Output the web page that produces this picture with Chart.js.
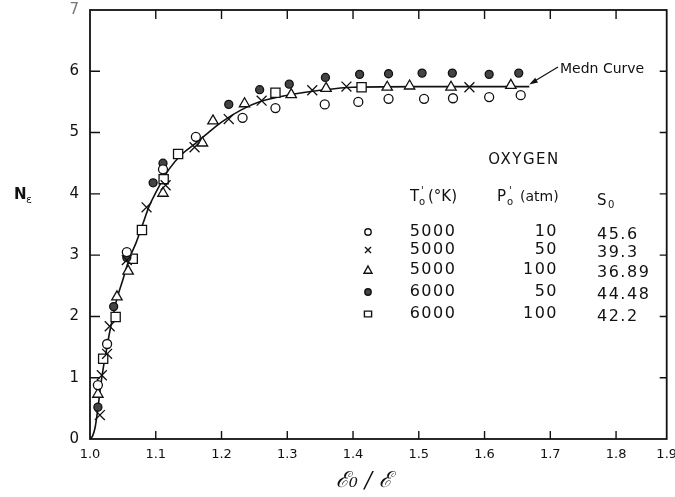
<!DOCTYPE html>
<html>
<head>
<meta charset="utf-8">
<script src="https://cdn.jsdelivr.net/npm/chart.js@4.4.1/dist/chart.umd.min.js"></script>
<style>
  html, body { margin: 0; padding: 0; background: #fff; }
</style>
</head>
<body>
<canvas id="ch" width="675" height="497"></canvas>
<script>
// values, [x = E0/E, y = N]
const openCircle = [[1.012,0.88],[1.026,1.55],[1.056,3.05],[1.111,4.40],[1.161,4.93],[1.232,5.24],[1.282,5.40],[1.357,5.46],[1.408,5.50],[1.454,5.55],[1.508,5.55],[1.552,5.56],[1.607,5.58],[1.655,5.61]];
const cross = [[1.015,0.39],[1.018,1.04],[1.026,1.39],[1.030,1.84],[1.056,2.92],[1.086,3.78],[1.115,4.14],[1.159,4.76],[1.211,5.22],[1.261,5.52],[1.338,5.69],[1.390,5.75],[1.577,5.74]];
const triangle = [[1.012,0.73],[1.041,2.32],[1.058,2.74],[1.111,4.01],[1.171,4.83],[1.187,5.19],[1.235,5.47],[1.306,5.62],[1.359,5.72],[1.452,5.74],[1.486,5.76],[1.549,5.74],[1.640,5.77]];
const filledCircle = [[1.012,0.52],[1.036,2.16],[1.056,2.96],[1.096,4.18],[1.111,4.50],[1.211,5.46],[1.258,5.70],[1.303,5.79],[1.358,5.90],[1.410,5.95],[1.454,5.96],[1.505,5.97],[1.551,5.97],[1.607,5.95],[1.652,5.97]];
const square = [[1.020,1.31],[1.039,1.99],[1.065,2.94],[1.079,3.41],[1.112,4.24],[1.134,4.65],[1.282,5.65],[1.413,5.74]];
const meanCurve = [[1.0,0],[1.004,0.05],[1.008,0.2],[1.012,0.5],[1.016,0.85],[1.02,1.15],[1.025,1.45],[1.03,1.75],[1.035,2.0],[1.04,2.25],[1.05,2.6],[1.06,2.95],[1.07,3.2],[1.08,3.5],[1.09,3.8],[1.1,4.02],[1.12,4.4],[1.14,4.65],[1.16,4.82],[1.18,5.0],[1.2,5.17],[1.23,5.37],[1.26,5.51],[1.3,5.61],[1.35,5.69],[1.4,5.74],[1.5,5.75],[1.6,5.75],[1.668,5.75]];

// legend table
const tempK = ['5000','5000','5000','6000','6000'];
const presAtm = ['10','50','100','50','100'];
const sZero = ['45.6','39.3','36.89','44.48','42.2'];

// axes
const xTickVals = [1.0,1.1,1.2,1.3,1.4,1.5,1.6,1.7,1.8,1.877];
const xTickLabels = ['1.0','1.1','1.2','1.3','1.4','1.5','1.6','1.7','1.8','1.9'];
const yTickVals = [0,1,2,3,4,5,6,7];
const curveEnd = [1.668, 5.75];

const INK = '#111';
const markers = [
  { data: openCircle, pointStyle: 'circle', radius: 4.5, fill: '#fff' },
  { data: cross, pointStyle: 'crossRot', radius: 7, fill: '#fff' },
  { data: triangle, pointStyle: 'triangle', radius: 6, fill: '#fff' },
  { data: filledCircle, pointStyle: 'circle', radius: 4, fill: '#444' },
  { data: square, pointStyle: 'rect', radius: 6.5, fill: '#fff' },
];

function toXY(arr) { return arr.map(p => ({ x: p[0], y: p[1] })); }

// small glyph for the table, same look as the plotted markers
function glyph(ctx, style, x, y, r, fill) {
  ctx.save();
  ctx.strokeStyle = INK; ctx.fillStyle = fill; ctx.lineWidth = 1.4;
  ctx.beginPath();
  if (style === 'circle') {
    ctx.arc(x, y, r, 0, Math.PI * 2); ctx.fill(); ctx.stroke();
  } else if (style === 'crossRot') {
    ctx.moveTo(x - r, y - r); ctx.lineTo(x + r, y + r);
    ctx.moveTo(x + r, y - r); ctx.lineTo(x - r, y + r); ctx.stroke();
  } else if (style === 'triangle') {
    ctx.moveTo(x, y - r); ctx.lineTo(x + r, y + r * 0.8); ctx.lineTo(x - r, y + r * 0.8);
    ctx.closePath(); ctx.fill(); ctx.stroke();
  } else {
    ctx.rect(x - r, y - r * 0.8, r * 2, r * 1.6); ctx.fill(); ctx.stroke();
  }
  ctx.restore();
}

const framePlugin = {
  id: 'frame',
  afterDatasetsDraw(chart) {
    const { ctx, chartArea: a, scales } = chart;
    ctx.save();
    ctx.strokeStyle = INK;
    ctx.lineWidth = 1.8;
    ctx.strokeRect(a.left, a.top, a.right - a.left, a.bottom - a.top);
    ctx.lineWidth = 1.4;
    ctx.beginPath();
    xTickVals.slice(1, 9).forEach(v => {
      const px = scales.x.getPixelForValue(v);
      ctx.moveTo(px, a.bottom); ctx.lineTo(px, a.bottom - 8);
      ctx.moveTo(px, a.top); ctx.lineTo(px, a.top + 9);
    });
    yTickVals.slice(1, 7).forEach(v => {
      const py = scales.y.getPixelForValue(v);
      ctx.moveTo(a.left, py); ctx.lineTo(a.left + 10, py);
      ctx.moveTo(a.right, py); ctx.lineTo(a.right - 7, py);
    });
    ctx.stroke();
    ctx.restore();
  }
};

const notesPlugin = {
  id: 'notes',
  afterDraw(chart) {
    const { ctx, scales } = chart;
    ctx.save();
    ctx.fillStyle = INK;
    ctx.textBaseline = 'middle';

    // y title: N with subscript epsilon
    ctx.font = 'bold 15px "DejaVu Sans"';
    ctx.textAlign = 'left';
    ctx.fillText('N', 14, 195);
    ctx.font = '11px "DejaVu Sans"';
    ctx.fillText('ε', 26, 200);

    // x title
    ctx.font = 'italic 22px "DejaVu Serif"';
    ctx.textAlign = 'center';
    ctx.fillText('ℰ₀ / ℰ', 364, 481);

    // mean curve note and arrow
    const tipX = scales.x.getPixelForValue(curveEnd[0]);
    const tipY = scales.y.getPixelForValue(curveEnd[1]) - 2;
    ctx.font = '14px "DejaVu Sans"';
    ctx.textAlign = 'left';
    ctx.fillText('Medn Curve', 560, 69);
    ctx.strokeStyle = INK; ctx.lineWidth = 1.2;
    ctx.beginPath(); ctx.moveTo(558, 67); ctx.lineTo(tipX + 3, tipY - 2); ctx.stroke();
    const ang = Math.atan2(tipY - 67, tipX - 558);
    ctx.beginPath();
    ctx.moveTo(tipX, tipY);
    ctx.lineTo(tipX - 9 * Math.cos(ang - 0.3), tipY - 9 * Math.sin(ang - 0.3));
    ctx.lineTo(tipX - 9 * Math.cos(ang + 0.3), tipY - 9 * Math.sin(ang + 0.3));
    ctx.closePath(); ctx.fill();

    // legend table
    ctx.font = '15px "DejaVu Sans"';
    ctx.letterSpacing = '1.5px';
    ctx.textAlign = 'center';
    ctx.fillText('OXYGEN', 524, 160);
    ctx.letterSpacing = '0px';

    ctx.textAlign = 'left';
    ctx.font = '15px "DejaVu Sans"';
    ctx.fillText('T', 410, 197);
    ctx.font = '10px "DejaVu Sans"';
    ctx.fillText("'", 421, 191); ctx.fillText('o', 419, 202);
    ctx.font = '15px "DejaVu Sans"';
    ctx.fillText('(°K)', 428, 197);

    ctx.fillText('P', 497, 197);
    ctx.font = '10px "DejaVu Sans"';
    ctx.fillText("'", 509, 191); ctx.fillText('o', 507, 202);
    ctx.font = '14px "DejaVu Sans"';
    ctx.fillText('(atm)', 520, 197);

    ctx.font = '15px "DejaVu Sans"';
    ctx.fillText('S', 597, 201);
    ctx.font = '10px "DejaVu Sans"';
    ctx.fillText('0', 608, 205);

    const rowY = [232, 250, 270, 292, 314];
    const glyphR = [3.2, 3, 4, 3.2, 3.6];
    ctx.font = '16px "DejaVu Sans"';
    ctx.letterSpacing = '1.5px';
    tempK.forEach((t, i) => {
      const m = markers[i];
      glyph(ctx, m.pointStyle, 368, rowY[i], glyphR[i], m.fill);
      ctx.fillStyle = INK;
      ctx.textAlign = 'center'; ctx.fillText(t, 433, rowY[i]);
      ctx.textAlign = 'right'; ctx.fillText(presAtm[i], 558, rowY[i]);
      ctx.textAlign = 'left'; ctx.fillText(sZero[i], 597, rowY[i] + 3);
    });
    ctx.restore();
  }
};

const datasets = [{
  label: 'Mean curve',
  data: toXY(meanCurve),
  showLine: true,
  borderColor: INK,
  borderWidth: 1.6,
  pointRadius: 0,
  cubicInterpolationMode: 'monotone',
  fill: false,
  order: 10
}].concat(markers.map((m, i) => ({
  label: tempK[i] + ' K, ' + presAtm[i] + ' atm',
  data: toXY(m.data),
  showLine: false,
  pointStyle: m.pointStyle,
  pointRadius: m.radius,
  pointBorderWidth: 1.3,
  pointBorderColor: INK,
  pointBackgroundColor: m.fill,
  order: 1
})));

new Chart(document.getElementById('ch'), {
  type: 'scatter',
  data: { datasets },
  options: {
    responsive: false,
    animation: false,
    layout: { padding: { top: 10, right: 7, left: 0, bottom: 0 } },
    plugins: { legend: { display: false }, tooltip: { enabled: false } },
    scales: {
      x: {
        type: 'linear', min: 1.0, max: 1.877,
        grid: { display: false, drawTicks: false },
        border: { display: false },
        afterBuildTicks: s => { s.ticks = xTickVals.map(v => ({ value: v })); },
        afterFit: s => { s.height = 58; s.paddingLeft = 0; s.paddingRight = 0; },
        ticks: {
          padding: 8, color: INK, autoSkip: false, maxRotation: 0,
          font: { family: 'DejaVu Sans', size: 13 },
          callback: (v, i) => xTickLabels[i]
        }
      },
      y: {
        type: 'linear', min: 0, max: 7,
        grid: { display: false, drawTicks: false },
        border: { display: false },
        afterBuildTicks: s => { s.ticks = yTickVals.map(v => ({ value: v })); },
        afterFit: s => { s.width = 90; s.paddingTop = 0; s.paddingBottom = 0; },
        ticks: {
          padding: 11, autoSkip: false,
          color: c => (c.tick && c.tick.value === 7 ? '#777' : INK),
          font: { family: 'DejaVu Sans', size: 15 },
          callback: v => String(v)
        }
      }
    }
  },
  plugins: [framePlugin, notesPlugin]
});
</script>
</body>
</html>
